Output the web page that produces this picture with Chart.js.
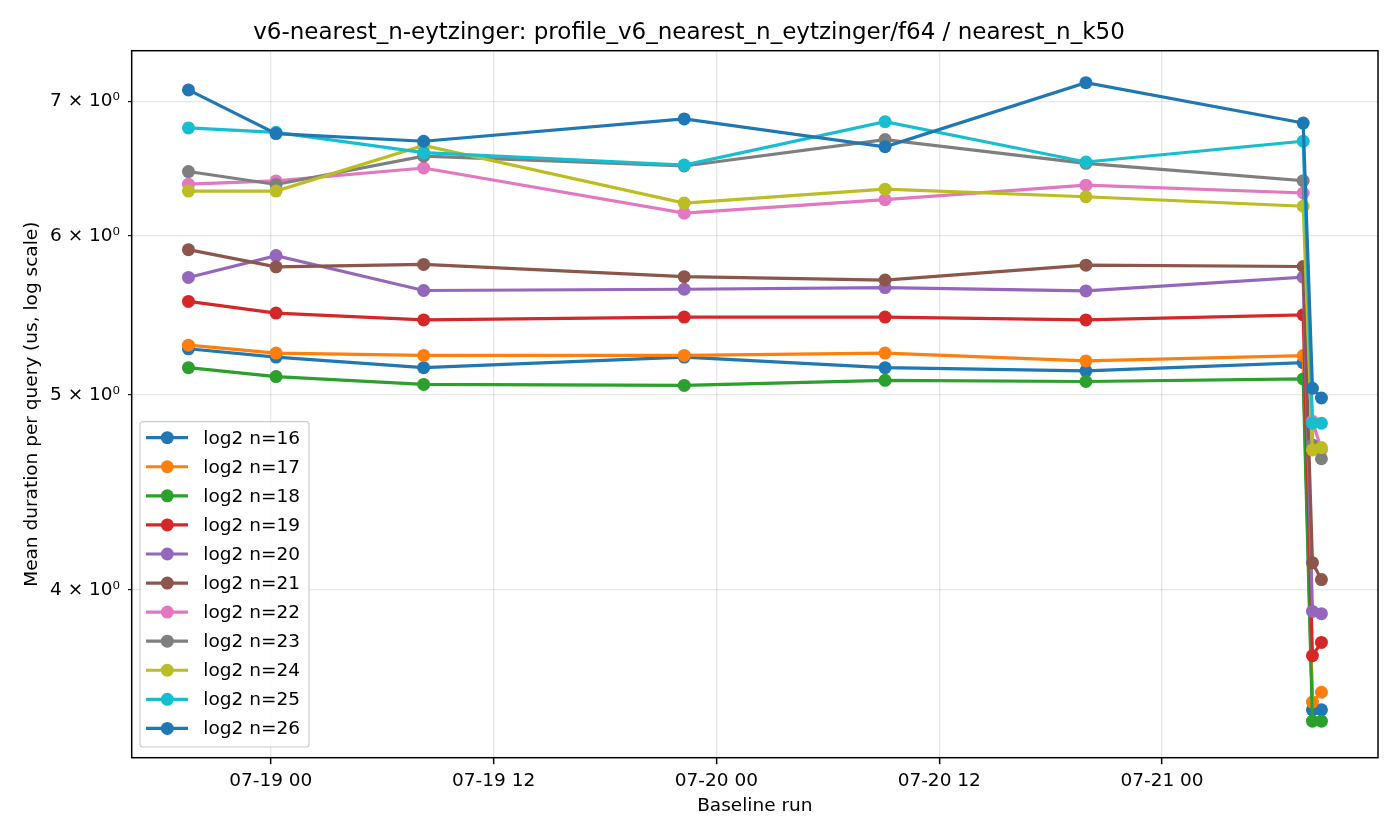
<!DOCTYPE html>
<html>
<head>
<meta charset="utf-8">
<title>v6-nearest_n-eytzinger</title>
<script src="https://cdn.jsdelivr.net/npm/chart.js@4.4.1/dist/chart.umd.min.js"></script>
<style>
  html, body { margin: 0; padding: 0; background: #fff; }
  canvas { display: block; }
</style>
</head>
<body>
<canvas id="chart" width="1400" height="840"></canvas>
<script>
// baseline run timestamps (MM-DD HH:MM)
const runTimes = ['07-18 19:34', '07-19 00:17', '07-19 08:14', '07-19 22:16', '07-20 09:05',
                  '07-20 19:54', '07-21 07:36', '07-21 08:06', '07-21 08:35'];

const seriesNames = ['log2 n=16', 'log2 n=17', 'log2 n=18', 'log2 n=19', 'log2 n=20', 'log2 n=21',
                     'log2 n=22', 'log2 n=23', 'log2 n=24', 'log2 n=25', 'log2 n=26'];

// mean duration per query (us)
const meanN16 = [5.272, 5.222, 5.159, 5.222, 5.159, 5.140, 5.189, 3.486, 3.486];
const meanN17 = [5.294, 5.246, 5.232, 5.232, 5.246, 5.199, 5.231, 3.517, 3.557];
const meanN18 = [5.159, 5.107, 5.061, 5.055, 5.085, 5.078, 5.093, 3.441, 3.441];
const meanN19 = [5.566, 5.492, 5.449, 5.467, 5.467, 5.449, 5.481, 3.709, 3.766];
const meanN20 = [5.721, 5.866, 5.636, 5.644, 5.655, 5.633, 5.723, 3.902, 3.892];
const meanN21 = [5.906, 5.791, 5.807, 5.726, 5.704, 5.802, 5.793, 4.126, 4.047];
const meanN22 = [6.366, 6.390, 6.485, 6.158, 6.254, 6.359, 6.302, 4.852, 4.696];
const meanN23 = [6.459, 6.364, 6.574, 6.500, 6.700, 6.520, 6.392, 4.722, 4.648];
const meanN24 = [6.316, 6.316, 6.655, 6.230, 6.330, 6.275, 6.207, 4.695, 4.708];
const meanN25 = [6.790, 6.756, 6.600, 6.507, 6.839, 6.530, 6.687, 4.841, 4.841];
const meanN26 = [7.092, 6.746, 6.687, 6.860, 6.645, 7.151, 6.828, 5.039, 4.983];

const seriesValues = [meanN16, meanN17, meanN18, meanN19, meanN20, meanN21,
                      meanN22, meanN23, meanN24, meanN25, meanN26];

// x ticks in hours from 07-19 00:00, y ticks (minor log ticks)
const xTickHours = [0, 12, 24, 36, 48];
const yTickValues = [4, 5, 6, 7];

const colors = ['#1f77b4', '#ff7f0e', '#2ca02c', '#d62728', '#9467bd', '#8c564b',
                '#e377c2', '#7f7f7f', '#bcbd22', '#17becf', '#1f77b4'];

const FONT = "'DejaVu Sans', 'Liberation Sans', sans-serif";

function hoursFromStart(s) {
  const [md, hm] = s.split(' ');
  const day = Number(md.split('-')[1]);
  const [h, m] = hm.split(':').map(Number);
  return (day - 19) * 24 + h + m / 60;
}

const runHours = runTimes.map(hoursFromStart);

const datasets = seriesValues.map((vals, i) => ({
  label: seriesNames[i],
  data: vals.map((v, j) => ({ x: runHours[j], y: v })),
  borderColor: colors[i],
  backgroundColor: colors[i],
  pointBackgroundColor: colors[i],
  pointBorderColor: colors[i],
  borderWidth: 3.2,
  pointRadius: 6.5,
  pointBorderWidth: 0,
  tension: 0,
  order: seriesValues.length - i  // later series on top, like matplotlib
}));

// matplotlib-like frame plus boxed legend in the lower left
const framePlugin = {
  id: 'frame',
  afterDraw(chart) {
    const { ctx, chartArea } = chart;
    ctx.save();
    ctx.strokeStyle = '#000';
    ctx.lineWidth = 1.5;
    ctx.strokeRect(chartArea.left, chartArea.top,
      chartArea.right - chartArea.left, chartArea.bottom - chartArea.top);

    // legend box
    const bx = chartArea.left + 8.3;
    const by = chartArea.top + 371;
    const bw = 169;
    const bh = 325.3;
    ctx.beginPath();
    ctx.roundRect(bx, by, bw, bh, 3);
    ctx.fillStyle = 'rgba(255,255,255,0.8)';
    ctx.fill();
    ctx.strokeStyle = '#cccccc';
    ctx.lineWidth = 1.2;
    ctx.stroke();

    ctx.font = `18.5px ${FONT}`;
    ctx.textBaseline = 'middle';
    ctx.textAlign = 'left';
    chart.data.datasets.forEach((ds, i) => {
      const cy = by + 16 + i * 29.07;
      ctx.strokeStyle = ds.borderColor;
      ctx.lineWidth = 3.2;
      ctx.beginPath();
      ctx.moveTo(bx + 6, cy);
      ctx.lineTo(bx + 48, cy);
      ctx.stroke();
      ctx.fillStyle = ds.borderColor;
      ctx.beginPath();
      ctx.arc(bx + 27.3, cy, 6.5, 0, Math.PI * 2);
      ctx.fill();
      ctx.fillStyle = '#000';
      ctx.fillText(ds.label, bx + 63.3, cy + 1);
    });
    ctx.restore();
  }
};

new Chart(document.getElementById('chart'), {
  type: 'line',
  data: { datasets },
  options: {
    responsive: false,
    animation: false,
    events: [],
    layout: { padding: { left: 0, right: 22, top: 0, bottom: 0 } },
    plugins: {
      legend: { display: false },
      tooltip: { enabled: false },
      title: {
        display: true,
        text: 'v6-nearest_n-eytzinger: profile_v6_nearest_n_eytzinger/f64 / nearest_n_k50',
        color: '#000',
        font: { family: FONT, size: 23, weight: 'normal' },
        padding: { top: 19.2, bottom: 3.9 }
      }
    },
    scales: {
      x: {
        type: 'linear',
        min: -7.49,
        max: 59.63,
        afterFit: (scale) => { scale.height = 82.3; },
        afterBuildTicks: (scale) => { scale.ticks = xTickHours.map(v => ({ value: v })); },
        border: { display: false },
        grid: {
          color: 'rgba(176,176,176,0.3)',
          lineWidth: 1.3,
          tickColor: '#000',
          tickLength: 6.5,
          tickWidth: 1.5
        },
        ticks: {
          autoSkip: false,
          maxRotation: 0,
          padding: 6,
          color: '#000',
          font: { family: FONT, size: 18.5 },
          callback: (v) => {
            const day = 19 + Math.floor(v / 24);
            const hour = ((v % 24) + 24) % 24;
            return `07-${day} ${String(hour).padStart(2, '0')}`;
          }
        },
        title: {
          display: true,
          text: 'Baseline run',
          color: '#000',
          font: { family: FONT, size: 18.5 },
          padding: { top: 0, bottom: 22.9 }
        }
      },
      y: {
        type: 'logarithmic',
        min: 3.3175,
        max: 7.418,
        afterFit: (scale) => { scale.width = 131.7; },
        afterBuildTicks: (scale) => { scale.ticks = yTickValues.map(v => ({ value: v })); },
        border: { display: false },
        grid: {
          color: 'rgba(176,176,176,0.3)',
          lineWidth: 1.3,
          tickColor: '#000',
          tickLength: 3.7,
          tickWidth: 1.1
        },
        ticks: {
          autoSkip: false,
          padding: 8,
          color: '#000',
          font: { family: FONT, size: 18.5 },
          callback: (v) => `${v} \u00d7 10\u2070`
        },
        title: {
          display: true,
          text: 'Mean duration per query (us, log scale)',
          color: '#000',
          font: { family: FONT, size: 18.5 },
          padding: { top: 20.6, bottom: 0 }
        }
      }
    }
  },
  plugins: [framePlugin]
});
</script>
</body>
</html>
